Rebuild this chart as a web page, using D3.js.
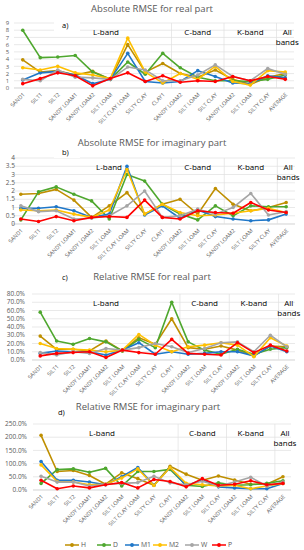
<!DOCTYPE html>
<html>
<head>
<meta charset="utf-8">
<script src="https://cdn.jsdelivr.net/npm/d3@7"></script>
<style>
  body { margin: 0; background: #fff; }
  svg { font-family: "Open Sans", "Liberation Sans", sans-serif; }
</style>
</head>
<body>
<svg id="chart"></svg>
<script>
// Categories (soil types per band, last is the overall average)
const categories = ["SAND1", "SILT1", "SILT2", "SANDY  LOAM1", "SANDY  LOAM2", "SILT LOAM",
  "SILT CLAY LOAM", "SILTY CLAY", "CLAY1", "SANDY  LOAM2", "SILT LOAM", "SILT CLAY",
  "SANDY  LOAM2", "SILT LOAM", "SILTY CLAY", "AVERAGE"];

const seriesNames = ["H", "D", "M1", "M2", "W", "P"];
const seriesColors = ["#bf8f00", "#4ea72e", "#1f77c8", "#ffc000", "#a5a5a5", "#ff0000"];

// a) absolute RMSE real part
const absRealH  = [3.9, 2.2, 2.4, 1.8, 2.3, 1.2, 6.0, 2.2, 3.4, 2.0, 1.5, 2.5, 1.2, 0.5, 1.5, 2.0];
const absRealD  = [8.0, 4.2, 4.3, 4.5, 2.2, 1.2, 3.6, 1.9, 4.8, 2.8, 1.5, 1.0, 1.0, 0.9, 1.2, 1.8];
const absRealM1 = [1.1, 2.1, 2.3, 1.8, 0.6, 1.2, 4.8, 0.9, 0.7, 0.9, 2.4, 1.6, 0.7, 0.6, 1.7, 1.4];
const absRealM2 = [2.8, 2.5, 3.0, 2.1, 1.8, 1.3, 6.9, 2.2, 0.7, 2.0, 1.2, 3.0, 0.9, 0.4, 2.4, 2.2];
const absRealW  = [1.2, 1.0, 2.5, 1.5, 1.4, 1.2, 2.9, 2.5, 1.0, 1.0, 1.8, 3.2, 1.6, 1.0, 2.7, 1.9];
const absRealP  = [0.6, 1.3, 2.1, 1.7, 0.3, 1.3, 2.1, 0.9, 1.7, 0.8, 1.0, 0.9, 1.6, 1.0, 1.6, 1.2];

// b) absolute RMSE imaginary part
const absImagH  = [1.8, 1.85, 2.1, 1.45, 0.4, 1.1, 1.9, 0.6, 1.2, 1.5, 0.6, 2.15, 1.2, 0.8, 1.0, 1.3];
const absImagD  = [0.25, 1.95, 2.25, 1.8, 1.4, 0.3, 3.0, 2.6, 1.2, 0.6, 0.25, 1.1, 0.5, 1.1, 1.05, 1.05];
const absImagM1 = [0.95, 0.95, 1.05, 0.8, 0.4, 0.6, 3.5, 0.55, 1.1, 0.35, 0.85, 0.45, 0.3, 0.2, 0.25, 0.6];
const absImagM2 = [0.85, 0.8, 0.85, 0.6, 0.4, 0.85, 3.3, 0.6, 1.2, 0.7, 0.5, 0.55, 0.65, 0.8, 0.95, 0.7];
const absImagW  = [1.1, 0.75, 0.8, 0.3, 0.35, 0.5, 1.1, 2.0, 0.4, 0.5, 0.9, 0.6, 1.0, 1.85, 0.55, 0.75];
const absImagP  = [0.3, 0.15, 0.45, 0.2, 0.4, 0.45, 0.4, 1.45, 0.4, 0.3, 0.8, 0.7, 0.65, 1.3, 0.85, 0.7];

// c) relative RMSE real part (%)
const relRealH  = [29, 13, 13, 11, 23, 11, 27, 19, 50, 15, 13, 17, 12, 5, 17, 16];
const relRealD  = [58, 23, 19, 26, 22, 11, 25, 15, 70, 22, 12, 7, 13, 7, 13, 15];
const relRealM1 = [8, 11, 10, 10, 6, 12, 21, 7, 10, 7, 8, 10, 10, 5, 17, 10];
const relRealM2 = [20, 14, 13, 12, 10, 12, 31, 18, 10, 16, 18, 21, 18, 4, 27, 17];
const relRealW  = [9, 6, 10, 8, 14, 12, 15, 20, 16, 9, 14, 21, 22, 10, 30, 16];
const relRealP  = [5, 8, 9, 10, 3, 12, 9, 7, 25, 8, 7, 6, 21, 9, 18, 11];

// d) relative RMSE imaginary part (%)
const relImagH  = [207, 70, 74, 55, 22, 65, 43, 18, 90, 60, 37, 53, 38, 22, 22, 50];
const relImagD  = [25, 77, 80, 67, 82, 15, 70, 70, 78, 18, 13, 27, 18, 20, 25, 35];
const relImagM1 = [108, 37, 37, 30, 20, 50, 85, 18, 85, 15, 40, 12, 8, 5, 5, 25];
const relImagM2 = [95, 32, 30, 20, 22, 45, 80, 17, 85, 25, 20, 15, 18, 5, 15, 25];
const relImagW  = [52, 30, 30, 15, 22, 25, 28, 52, 27, 20, 33, 15, 30, 48, 15, 30];
const relImagP  = [37, 5, 15, 8, 20, 28, 8, 40, 32, 12, 43, 18, 22, 35, 20, 25];

// Tick values per panel
const ticksA = [0, 1, 2, 3, 4, 5, 6, 7, 8, 9];
const ticksB = [0, 0.5, 1, 1.5, 2, 2.5, 3, 3.5, 4];
const ticksC = [0, 10, 20, 30, 40, 50, 60, 70, 80];
const ticksD = [0, 50, 100, 150, 200, 250];

const bandLabels = ["L-band", "C-band", "K-band"];

const W = 304, H = 550;
const svg = d3.select("#chart").attr("width", W).attr("height", H);

// panel layout
const panels = [
  { title: "Absolute RMSE for real part", tag: "a)", series: [absRealH, absRealD, absRealM1, absRealM2, absRealW, absRealP],
    ticks: ticksA, fmt: d => d, top: 23, bottom: 88, left: 14, right: 294, titleX: 152, titleY: 12, tagX: 62, tagY: 28, labelX: 9, tickFont: 5.9, lbandX: 106 },
  { title: "Absolute RMSE for imaginary part", tag: "b)", series: [absImagH, absImagD, absImagM1, absImagM2, absImagW, absImagP],
    ticks: ticksB, fmt: d => d, top: 158, bottom: 224, left: 12, right: 295, titleX: 152, titleY: 146, tagX: 62, tagY: 155, labelX: 15, tickFont: 6.5, lbandX: 109 },
  { title: "Relative RMSE for real part", tag: "c)", series: [relRealH, relRealD, relRealM1, relRealM2, relRealW, relRealP],
    ticks: ticksC, fmt: d => d.toFixed(1) + "%", top: 294, bottom: 360, left: 32, right: 295, titleX: 152, titleY: 280, tagX: 62, tagY: 280, labelX: 25, tickFont: 6.5, lbandX: 106 },
  { title: "Relative RMSE for imaginary part", tag: "d)", series: [relImagH, relImagD, relImagM1, relImagM2, relImagW, relImagP],
    ticks: ticksD, fmt: d => d.toFixed(1) + "%", top: 424, bottom: 490, left: 33, right: 291, titleX: 148, titleY: 410, tagX: 58, tagY: 415, labelX: 27, tickFont: 6.5, lbandX: 102 }
];

panels.forEach(p => {
  const g = svg.append("g");
  const x = d3.scaleBand().domain(d3.range(categories.length)).range([p.left, p.right]);
  const y = d3.scaleLinear().domain([0, d3.max(p.ticks)]).range([p.bottom, p.top]);
  const cx = i => x(i) + x.bandwidth() / 2;

  // title
  g.append("text").attr("x", p.titleX).attr("y", p.titleY).attr("text-anchor", "middle")
    .attr("font-size", 9.5).attr("fill", "#595959").text(p.title);

  // gridlines
  g.selectAll(".grid").data(p.ticks).enter().append("line")
    .attr("x1", p.left).attr("x2", p.right)
    .attr("y1", d => y(d)).attr("y2", d => y(d))
    .attr("stroke", d => d === 0 ? "#bfbfbf" : "#e0e0e0").attr("stroke-width", 0.7);

  // y tick labels
  g.selectAll(".ylab").data(p.ticks).enter().append("text")
    .attr("x", p.labelX).attr("y", d => y(d) + 2.2)
    .attr("text-anchor", "end").attr("font-size", p.tickFont).attr("fill", "#595959")
    .text(p.fmt);

  // band separators
  [9, 12, 15].forEach(i => {
    g.append("line").attr("x1", x(i)).attr("x2", x(i))
      .attr("y1", p.top).attr("y2", p.bottom)
      .attr("stroke", "#e0e0e0").attr("stroke-width", 0.7);
  });

  // band labels
  const bandX = [p.lbandX, (x(9) + x(12)) / 2, (x(12) + x(15)) / 2];
  bandLabels.forEach((b, i) => {
    g.append("text").attr("x", bandX[i]).attr("y", y(d3.max(p.ticks)) + 11.5)
      .attr("text-anchor", "middle").attr("font-size", 8).attr("fill", "#000").text(b);
  });
  const ab = g.append("text").attr("x", cx(15) + 2).attr("text-anchor", "middle")
    .attr("font-size", 8).attr("fill", "#000");
  ab.append("tspan").attr("x", cx(15) + 2).attr("y", y(d3.max(p.ticks)) + 11.5).text("All");
  ab.append("tspan").attr("x", cx(15) + 2).attr("y", y(d3.max(p.ticks)) + 22).text("bands");

  // panel tag with white box
  g.append("rect").attr("x", p.tagX - 8).attr("y", p.tagY - 8).attr("width", 26).attr("height", 11).attr("fill", "#fff");
  g.append("text").attr("x", p.tagX).attr("y", p.tagY).attr("font-size", 7.5).attr("fill", "#000").text(p.tag);

  // x labels rotated
  g.selectAll(".xlab").data(categories).enter().append("text")
    .attr("transform", (d, i) => `translate(${cx(i) + 2.5},${p.bottom + 7}) rotate(-45)`)
    .attr("text-anchor", "end").attr("font-size", 5.5).attr("fill", "#595959")
    .text(d => d);

  // series
  const line = d3.line().x((d, i) => cx(i)).y(d => y(d));
  p.series.forEach((vals, s) => {
    g.append("path").datum(vals).attr("d", line).attr("fill", "none")
      .attr("stroke", seriesColors[s]).attr("stroke-width", 1.6).attr("stroke-linejoin", "round");
    g.selectAll(".pt" + s).data(vals).enter().append("circle")
      .attr("cx", (d, i) => cx(i)).attr("cy", d => y(d)).attr("r", 1.8)
      .attr("fill", seriesColors[s]);
  });
});

// legend
const legendX = [65, 97, 125, 153, 185, 212];
seriesNames.forEach((n, i) => {
  const lg = svg.append("g").attr("transform", `translate(${legendX[i]},545)`);
  lg.append("line").attr("x1", 0).attr("x2", 14).attr("y1", 0).attr("y2", 0)
    .attr("stroke", seriesColors[i]).attr("stroke-width", 1.5);
  lg.append("circle").attr("cx", 7).attr("cy", 0).attr("r", 1.9).attr("fill", seriesColors[i]);
  lg.append("text").attr("x", 16).attr("y", 2.4).attr("font-size", 6.8).attr("fill", "#595959").text(n);
});
</script>
</body>
</html>
